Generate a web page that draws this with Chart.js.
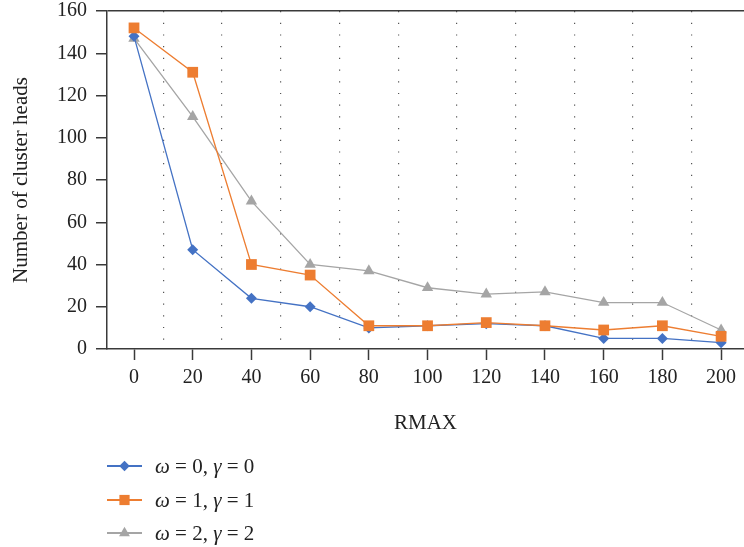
<!DOCTYPE html>
<html><head><meta charset="utf-8">
<script src="https://cdn.jsdelivr.net/npm/chart.js@4/dist/chart.umd.min.js"></script>
<style>html,body{margin:0;padding:0;background:#fff}#wrap{width:744px;height:547px;position:relative}</style>
</head><body><div id="wrap"><canvas id="c" width="744" height="547"></canvas></div>
<script>
// ---- data ----
const rmax = [0, 20, 40, 60, 80, 100, 120, 140, 160, 180, 200];
const yTicks = [0, 20, 40, 60, 80, 100, 120, 140, 160];
const seriesNames = ['ω = 0, γ = 0', 'ω = 1, γ = 1', 'ω = 2, γ = 2'];
const heads_w0 = [148, 47, 24, 20, 10, 11, 12, 11, 5, 5, 3];
const heads_w1 = [152, 131, 40, 35, 11, 11, 12.5, 11, 9, 11, 6];
const heads_w2 = [147, 110, 70, 40, 37, 29, 26, 27, 22, 22, 9];
const xTitle = 'RMAX';
const yTitle = 'Number of cluster heads';

// ---- style ----
const FONT_FAMILY = '"Liberation Serif", "Times New Roman", serif';
const FONT_SIZE = 20;
const font = {family: FONT_FAMILY, size: FONT_SIZE};
const titleFont = {family: FONT_FAMILY, size: 21};
const textColor = '#222';
const axisColor = '#3a3a3a';
const colors = ['#4472C4', '#ED7D31', '#A5A5A5'];
const styles = [
  {pointStyle: 'rectRot', radius: 5.5},
  {pointStyle: 'rect', radius: 7.6},
  {pointStyle: 'triangle', radius: 6.6}
];
const seriesValues = [heads_w0, heads_w1, heads_w2];
const drawOrder = [1, 0, 2];

const datasets = seriesValues.map((vals, i) => ({
  label: seriesNames[i],
  data: rmax.map((x, j) => ({x: x, y: vals[j]})),
  borderColor: colors[i],
  backgroundColor: colors[i],
  borderWidth: 1.3,
  pointStyle: styles[i].pointStyle,
  pointRadius: styles[i].radius,
  pointBorderWidth: 0,
  pointBackgroundColor: colors[i],
  order: drawOrder[i],
  tension: 0
}));

const midpoints = rmax.slice(0, -1).map((v, i) => (v + rmax[i + 1]) / 2);
const XMIN = -9.2, XMAX = 207.8;

function noPadding(s) {
  s._calculatePadding = function () {
    this.paddingLeft = 0; this.paddingRight = 0; this.paddingTop = 0; this.paddingBottom = 0;
  };
}

const legendPlugin = {
  id: 'customLegend',
  afterDraw(chart) {
    const ctx = chart.ctx;
    const rows = [466, 500, 533];
    ctx.save();
    seriesNames.forEach((name, i) => {
      const y = rows[i];
      ctx.strokeStyle = colors[i];
      ctx.lineWidth = 2;
      ctx.beginPath();
      ctx.moveTo(107, y);
      ctx.lineTo(142, y);
      ctx.stroke();
      ctx.fillStyle = colors[i];
      ctx.strokeStyle = colors[i];
      Chart.helpers.drawPoint(ctx, {pointStyle: styles[i].pointStyle, radius: styles[i].radius * 0.95, rotation: 0, borderWidth: 0}, 124.5, y);
      let x = 155;
      ctx.fillStyle = textColor;
      ctx.textBaseline = 'middle';
      ctx.textAlign = 'left';
      name.split(/([ωγ])/).filter(s => s.length).forEach(seg => {
        const italic = /[ωγ]/.test(seg);
        ctx.font = (italic ? 'italic ' : '') + '21px ' + FONT_FAMILY;
        ctx.fillText(seg, x, y + 1);
        x += ctx.measureText(seg).width;
      });
    });
    ctx.restore();
  }
};

new Chart(document.getElementById('c'), {
  type: 'line',
  data: {datasets},
  options: {
    responsive: false,
    devicePixelRatio: 1,
    animation: false,
    layout: {autoPadding: false, padding: {left: 9, top: 11, right: 0, bottom: 111}},
    plugins: {legend: {display: false}, tooltip: {enabled: false}},
    scales: {
      x: {
        type: 'linear', position: 'bottom', min: XMIN, max: XMAX,
        beforeUpdate: noPadding,
        afterBuildTicks: s => { s.ticks = rmax.map(v => ({value: v})); },
        ticks: {font, color: textColor, padding: 6, autoSkip: false, maxRotation: 0},
        grid: {drawOnChartArea: false, drawTicks: true, tickLength: 11, tickColor: axisColor, tickWidth: 1.5},
        border: {color: axisColor, width: 1.5},
        title: {display: true, text: xTitle, font: titleFont, color: textColor, padding: {top: 25, bottom: 0}},
        afterFit: s => { s.height = 87; }
      },
      xg: {
        type: 'linear', position: 'bottom', min: XMIN, max: XMAX,
        beforeUpdate: noPadding,
        afterBuildTicks: s => { s.ticks = midpoints.map(v => ({value: v})); },
        ticks: {display: false},
        grid: {drawTicks: false, color: '#555', lineWidth: 1.2},
        border: {display: false, dash: [1.2, 10.5]},
        afterFit: s => { s.height = 0; }
      },
      y: {
        type: 'linear', min: 0, max: 160,
        beforeUpdate: noPadding,
        afterBuildTicks: s => { s.ticks = yTicks.map(v => ({value: v})); },
        ticks: {font, color: textColor, padding: 9},
        grid: {
          color: c => (c.tick && c.tick.value === 160) ? axisColor : 'rgba(0,0,0,0)',
          tickColor: axisColor, tickLength: 11, lineWidth: 1.5, tickWidth: 1.5
        },
        border: {color: axisColor, width: 1.5},
        title: {display: true, text: yTitle, font: titleFont, color: textColor, padding: {top: 0, bottom: 0}},
        afterFit: s => { s.width = 98; }
      }
    }
  },
  plugins: [legendPlugin]
});
</script>
</body></html>
